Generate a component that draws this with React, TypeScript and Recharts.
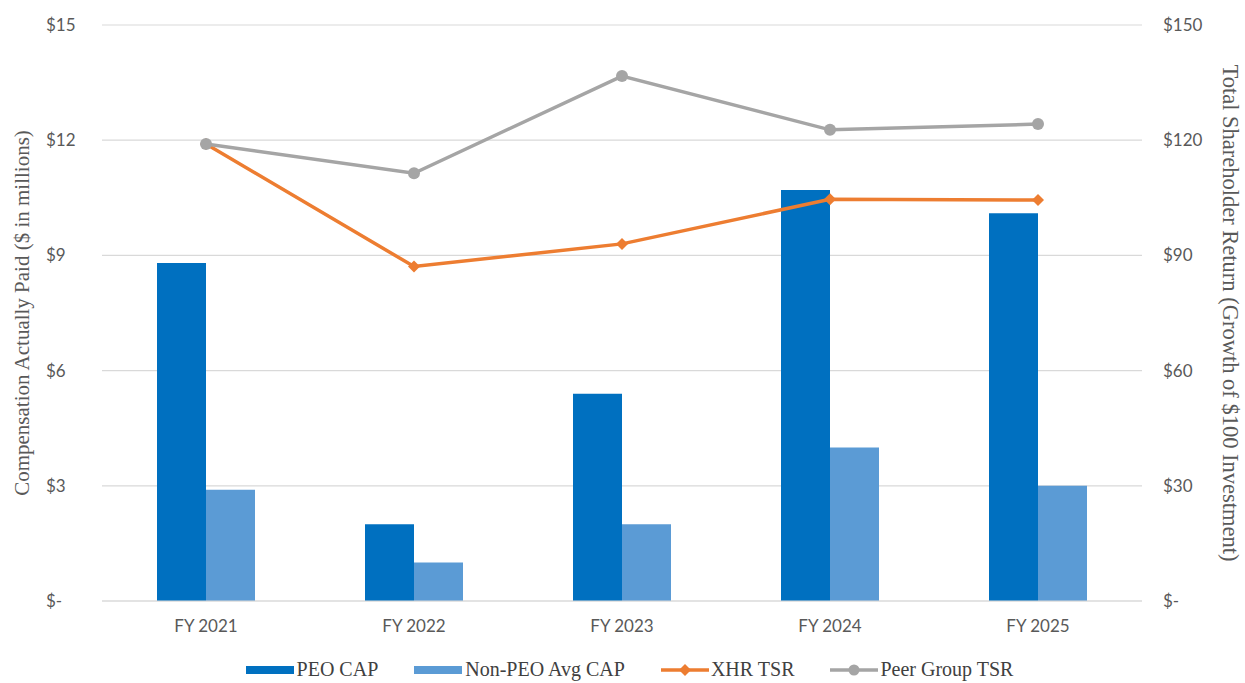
import React from 'react';
import { ComposedChart, Bar, Line, XAxis, YAxis, CartesianGrid, Label } from 'recharts';

const fiscalYears = ['FY 2021', 'FY 2022', 'FY 2023', 'FY 2024', 'FY 2025'];
const peoCap = [8.8, 2.0, 5.4, 10.7, 10.1];
const nonPeoAvgCap = [2.9, 1.0, 2.0, 4.0, 3.0];
const xhrTsr = [119.0, 87.1, 93.0, 104.6, 104.4];
const peerGroupTsr = [119.0, 111.4, 136.7, 122.7, 124.2];
const capTicks = [0, 3, 6, 9, 12, 15];
const tsrTicks = [0, 30, 60, 90, 120, 150];

const data = fiscalYears.map((year, i) => ({
  year,
  peoCap: peoCap[i],
  nonPeoAvgCap: nonPeoAvgCap[i],
  xhrTsr: xhrTsr[i],
  peerGroupTsr: peerGroupTsr[i],
}));

const COLORS = {
  peo: '#0070C0',
  nonPeo: '#5B9BD5',
  xhr: '#ED7D31',
  peer: '#A5A5A5',
  grid: '#D9D9D9',
  text: '#595959',
};

const tickFont = 'Lato, "Open Sans", sans-serif';
const titleFont = '"Liberation Serif", "Times New Roman", serif';

const money = (v: number) => (v === 0 ? '$-' : `$${v}`);

const LeftTick = (props: any) => {
  const { x, y, payload } = props;
  return (
    <text x={x - 48} y={y} dy={6} textAnchor="start" fill={COLORS.text} fontSize={17} fontFamily={tickFont}>
      {money(payload.value)}
    </text>
  );
};

const RightTick = (props: any) => {
  const { x, y, payload } = props;
  return (
    <text x={x + 13} y={y} dy={6} textAnchor="start" fill={COLORS.text} fontSize={17} fontFamily={tickFont}>
      {money(payload.value)}
    </text>
  );
};

const YearTick = (props: any) => {
  const { x, y, payload } = props;
  return (
    <text x={x} y={y} dy={23} textAnchor="middle" fill={COLORS.text} fontSize={17} fontFamily={tickFont}>
      {payload.value}
    </text>
  );
};

const Diamond = (props: any) => {
  const { cx, cy } = props;
  if (cx == null || cy == null) return null;
  const r = 6;
  return (
    <polygon
      points={`${cx},${cy - r} ${cx + r},${cy} ${cx},${cy + r} ${cx - r},${cy}`}
      fill={COLORS.xhr}
    />
  );
};

const Dot = (props: any) => {
  const { cx, cy } = props;
  if (cx == null || cy == null) return null;
  return <circle cx={cx} cy={cy} r={6} fill={COLORS.peer} />;
};

// axis title rendered inside the y-axis box, rotated to read along the axis
const axisTitle = (text: string, dx: number, angle: number, size: number) => (p: any) => {
  const vb = p.viewBox;
  const cx = vb.x + dx;
  const cy = vb.y + vb.height / 2;
  return (
    <text
      x={cx}
      y={cy}
      transform={`rotate(${angle}, ${cx}, ${cy})`}
      textAnchor="middle"
      dominantBaseline="central"
      fill={COLORS.text}
      fontSize={size}
      fontFamily={titleFont}
    >
      {text}
    </text>
  );
};

const legendItems = [
  { label: 'PEO CAP', color: COLORS.peo, kind: 'bar' },
  { label: 'Non-PEO Avg CAP', color: COLORS.nonPeo, kind: 'bar' },
  { label: 'XHR TSR', color: COLORS.xhr, kind: 'diamond' },
  { label: 'Peer Group TSR', color: COLORS.peer, kind: 'circle' },
];

const LegendSwatch = ({ color, kind }: { color: string; kind: string }) => {
  if (kind === 'bar') {
    return (
      <svg width={48} height={10} style={{ marginRight: 3 }}>
        <rect x={0} y={1} width={48} height={8} fill={color} />
      </svg>
    );
  }
  return (
    <svg width={48} height={14} style={{ marginRight: 2 }}>
      <line x1={0} y1={7} x2={48} y2={7} stroke={color} strokeWidth={3.5} />
      {kind === 'diamond' ? (
        <polygon points="24,1 30,7 24,13 18,7" fill={color} />
      ) : (
        <circle cx={24} cy={7} r={5.5} fill={color} />
      )}
    </svg>
  );
};

export default function App() {
  return (
    <div style={{ position: 'absolute', left: 0, top: 0, width: 1245, height: 683, background: '#fff', overflow: 'hidden' }}>
      <ComposedChart
        width={1245}
        height={683}
        data={data}
        margin={{ top: 25, right: 0, bottom: 0, left: 0 }}
        barGap={0}
      >
        <CartesianGrid vertical={false} stroke={COLORS.grid} strokeWidth={1.2} yAxisId="cap" />
        <XAxis
          dataKey="year"
          height={82}
          axisLine={{ stroke: COLORS.grid, strokeWidth: 1.2 }}
          tickLine={false}
          tick={<YearTick />}
        />
        <YAxis
          yAxisId="cap"
          orientation="left"
          width={102}
          domain={[0, 15]}
          ticks={capTicks}
          axisLine={false}
          tickLine={false}
          tick={<LeftTick />}
        >
          <Label content={axisTitle('Compensation Actually Paid ($ in millions)', 22, -90, 21)} />
        </YAxis>
        <YAxis
          yAxisId="tsr"
          orientation="right"
          width={103}
          domain={[0, 150]}
          ticks={tsrTicks}
          axisLine={false}
          tickLine={false}
          tick={<RightTick />}
        >
          <Label content={axisTitle('Total Shareholder Return (Growth of $100 Investment)', 88, 90, 22.5)} />
        </YAxis>
        <Bar dataKey="peoCap" yAxisId="cap" fill={COLORS.peo} barSize={49} isAnimationActive={false} />
        <Bar dataKey="nonPeoAvgCap" yAxisId="cap" fill={COLORS.nonPeo} barSize={49} isAnimationActive={false} />
        <Line
          dataKey="xhrTsr"
          yAxisId="tsr"
          stroke={COLORS.xhr}
          strokeWidth={3.5}
          dot={<Diamond />}
          activeDot={false}
          isAnimationActive={false}
        />
        <Line
          dataKey="peerGroupTsr"
          yAxisId="tsr"
          stroke={COLORS.peer}
          strokeWidth={3.5}
          dot={<Dot />}
          activeDot={false}
          isAnimationActive={false}
        />
      </ComposedChart>
      <div
        style={{
          position: 'absolute',
          left: 16,
          top: 658,
          width: 1227,
          display: 'flex',
          justifyContent: 'center',
          alignItems: 'center',
          gap: 36,
          fontFamily: titleFont,
          fontSize: 20,
          color: '#404040',
          lineHeight: '23px',
        }}
      >
        {legendItems.map((item) => (
          <div key={item.label} style={{ display: 'flex', alignItems: 'center' }}>
            <LegendSwatch color={item.color} kind={item.kind} />
            <span>{item.label}</span>
          </div>
        ))}
      </div>
    </div>
  );
}
